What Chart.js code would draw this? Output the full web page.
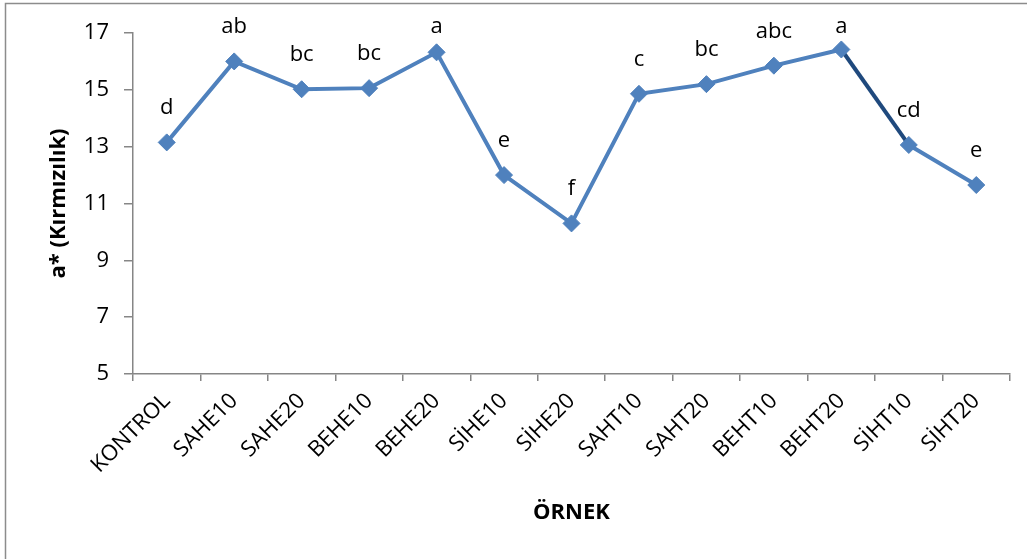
<!DOCTYPE html>
<html>
<head>
<meta charset="utf-8">
<script src="https://cdn.jsdelivr.net/npm/chart.js@4"></script>
<style>
  html, body { margin: 0; padding: 0; background: #fff; }
  #wrap { width: 1027px; height: 559px; position: relative; }
</style>
</head>
<body>
<div id="wrap"><canvas id="c" width="1027" height="559"></canvas></div>
<script>
const categories = ["KONTROL", "SAHE10", "SAHE20", "BEHE10", "BEHE20", "SİHE10", "SİHE20", "SAHT10", "SAHT20", "BEHT10", "BEHT20", "SİHT10", "SİHT20"];
const values = [13.15, 16.0, 15.02, 15.06, 16.32, 12.0, 10.3, 14.86, 15.2, 15.85, 16.42, 13.06, 11.65];
const letters = ["d", "ab", "bc", "bc", "a", "e", "f", "c", "bc", "abc", "a", "cd", "e"];
const yTicks = [5, 7, 9, 11, 13, 15, 17];

const FONT = "'Open Sans', 'Liberation Sans', sans-serif";
const AXIS = '#868686';
const LINE = '#4F81BD';
const DARK = '#1F497D';

const framePlugin = {
  id: 'frame',
  beforeDraw(chart) {
    const ctx = chart.ctx;
    ctx.save();
    ctx.fillStyle = '#fff';
    ctx.fillRect(0, 0, chart.width, chart.height);
    ctx.strokeStyle = '#8c8c8c';
    ctx.lineWidth = 1.5;
    ctx.strokeRect(5.5, 3.5, 1100, 700);
    ctx.restore();
  }
};

const letterPlugin = {
  id: 'letters',
  afterDatasetsDraw(chart) {
    const ctx = chart.ctx;
    const meta = chart.getDatasetMeta(0);
    ctx.save();
    ctx.font = "22px " + FONT;
    ctx.fillStyle = '#000';
    ctx.textAlign = 'center';
    ctx.textBaseline = 'alphabetic';
    meta.data.forEach((pt, i) => {
      const base = Math.max(pt.y - 28, chart.chartArea.top);
      ctx.fillText(letters[i], pt.x, base);
    });
    ctx.restore();
  }
};

new Chart(document.getElementById('c'), {
  type: 'line',
  data: {
    labels: categories,
    datasets: [{
      data: values,
      borderColor: LINE,
      borderWidth: 4,
      pointStyle: 'rectRot',
      pointRadius: 8.5,
      pointHoverRadius: 8.5,
      pointBackgroundColor: LINE,
      pointBorderColor: LINE,
      pointBorderWidth: 1,
      tension: 0,
      fill: false,
      segment: {
        borderColor: ctx => ctx.p0DataIndex === 10 ? DARK : undefined
      }
    }]
  },
  options: {
    responsive: false,
    animation: false,
    events: [],
    layout: { padding: { top: 33, right: 17, left: 0, bottom: 0 } },
    plugins: {
      legend: { display: false },
      tooltip: { enabled: false },
      title: { display: false }
    },
    scales: {
      x: {
        type: 'category',
        offset: true,
        grid: { offset: true, drawOnChartArea: false, drawTicks: true, tickLength: 7, color: AXIS, lineWidth: 1.5 },
        border: { display: true, color: AXIS, width: 1.5 },
        ticks: {
          autoSkip: false, minRotation: 45, maxRotation: 45, padding: 7,
          color: '#000', font: { family: FONT, size: 22 }
        },
        title: {
          display: true, text: 'ÖRNEK', color: '#000',
          font: { family: FONT, size: 22, weight: 'bold' },
          padding: { top: 0, bottom: 33 }
        },
        afterFit(scale) { scale.height = 185; }
      },
      y: {
        min: 5, max: 17,
        afterBuildTicks(scale) { scale.ticks = yTicks.map(v => ({ value: v })); },
        grid: { drawOnChartArea: false, drawTicks: true, tickLength: 9, color: AXIS, lineWidth: 1.5 },
        border: { display: true, color: AXIS, width: 1.5 },
        ticks: { padding: 15, color: '#000', font: { family: FONT, size: 22 } },
        title: {
          display: true, text: 'a* (Kırmızılık)', color: '#000',
          font: { family: FONT, size: 22, weight: 'bold' },
          padding: { top: 46, bottom: 0 }
        },
        afterFit(scale) { scale.width = 133; }
      }
    }
  },
  plugins: [framePlugin, letterPlugin]
});
</script>
</body>
</html>
